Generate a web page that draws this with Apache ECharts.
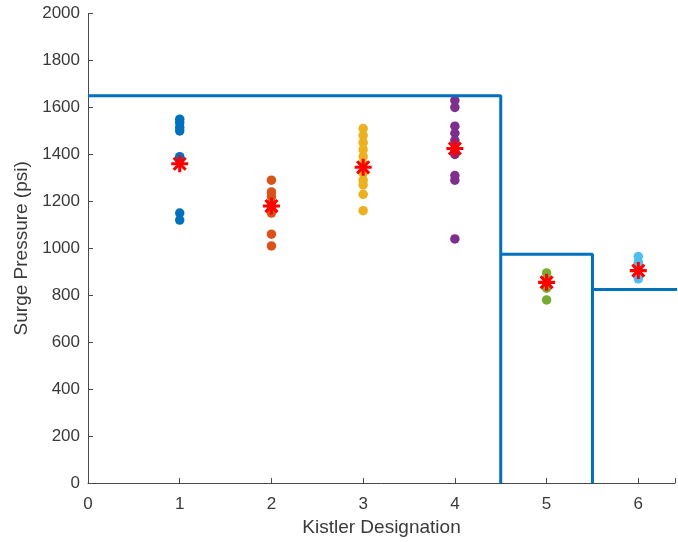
<!DOCTYPE html>
<html>
<head>
<meta charset="utf-8">
<title>Surge Pressure by Kistler Designation</title>
<script src="https://cdn.jsdelivr.net/npm/echarts@6/dist/echarts.min.js"></script>
<style>
  html, body { margin: 0; padding: 0; background: #ffffff; }
  #chart { width: 678px; height: 542px; }
</style>
</head>
<body>
<div id="chart"></div>
<script>
// Kistler gauge positions along the x axis
const designations = [1, 2, 3, 4, 5, 6];

// Individual surge pressure readings (psi) for each gauge
const kistler1 = [1550, 1535, 1515, 1500, 1390, 1375, 1150, 1120];
const kistler2 = [1290, 1240, 1220, 1195, 1170, 1150, 1060, 1010];
const kistler3 = [1510, 1480, 1450, 1420, 1390, 1360, 1320, 1290, 1270, 1230, 1160];
const kistler4 = [1630, 1600, 1520, 1490, 1460, 1420, 1400, 1310, 1290, 1040];
const kistler5 = [895, 870, 850, 830, 780];
const kistler6 = [965, 940, 910, 880, 870];

// Average pressure per gauge (red asterisks)
const meanPressure = [1360, 1180, 1345, 1425, 855, 905];

// Pressure limit steps: limitValues[i] applies between limitBounds[i] and limitBounds[i+1]
const limitBounds = [0, 4.5, 5.5, 6.5];
const limitValues = [1650, 975, 825];

// Axis tick values and the visible x range
const yTicks = [0, 200, 400, 600, 800, 1000, 1200, 1400, 1600, 1800, 2000];
const xTicks = [0, 1, 2, 3, 4, 5, 6];
const xMax = 6.4;

const readings = [kistler1, kistler2, kistler3, kistler4, kistler5, kistler6];
const dotColors = ['#0072BD', '#D95319', '#EDB120', '#7E2F8E', '#77AC30', '#4DBEEE'];

const fontFamily = '"Liberation Sans", Arial, Helvetica, sans-serif';
const textColor = '#3a3a3a';
const axisColor = '#4a4a4a';

const series = [];

// scattered readings
readings.forEach(function (vals, i) {
  series.push({
    type: 'scatter',
    name: 'Kistler ' + designations[i],
    data: vals.map(function (v) { return [designations[i], v]; }),
    symbol: 'circle',
    symbolSize: 9.5,
    itemStyle: { color: dotColors[i], opacity: 1 },
    z: 2,
    silent: true
  });
});

// limit steps drawn as separate segments
for (let i = 0; i < limitValues.length; i++) {
  const pts = [[limitBounds[i], limitValues[i]], [limitBounds[i + 1], limitValues[i]]];
  if (i < limitValues.length - 1) pts.push([limitBounds[i + 1], 0]);
  series.push({
    type: 'line',
    name: 'Limit ' + (i + 1),
    data: pts,
    showSymbol: false,
    symbol: 'none',
    clip: true,
    lineStyle: { color: '#0072BD', width: 3 },
    z: 3,
    silent: true
  });
}

// asterisk marker built from a plus and a rotated plus
const plusPath = 'path://M-1.8,-10L1.8,-10L1.8,-1.8L10,-1.8L10,1.8L1.8,1.8L1.8,10L-1.8,10L-1.8,1.8L-10,1.8L-10,-1.8L-1.8,-1.8Z';
const meanData = meanPressure.map(function (v, i) { return [designations[i], v]; });
[0, 45].forEach(function (rot) {
  series.push({
    type: 'scatter',
    name: 'Mean',
    data: meanData,
    symbol: plusPath,
    symbolSize: 17,
    symbolRotate: rot,
    itemStyle: { color: '#FF0000', opacity: 1 },
    z: 4,
    silent: true
  });
});

const chart = echarts.init(document.getElementById('chart'), null, { renderer: 'canvas' });
chart.setOption({
  animation: false,
  backgroundColor: '#ffffff',
  grid: { left: 88, right: 0, top: 13.5, bottom: 58.5, containLabel: false },
  xAxis: {
    type: 'value',
    min: xTicks[0],
    max: xMax,
    interval: 1,
    name: 'Kistler Designation',
    nameLocation: 'middle',
    nameGap: 33,
    nameTextStyle: { fontSize: 19, color: textColor, fontFamily: fontFamily },
    axisLine: { show: true, onZero: false, lineStyle: { color: axisColor, width: 1 } },
    axisTick: { show: true, inside: true, length: 5, lineStyle: { color: axisColor } },
    axisLabel: {
      fontSize: 17, color: textColor, fontFamily: fontFamily, margin: 13,
      formatter: function (v) { return xTicks.indexOf(v) >= 0 ? String(v) : ''; }
    },
    splitLine: { show: false }
  },
  yAxis: {
    type: 'value',
    min: yTicks[0],
    max: yTicks[yTicks.length - 1],
    interval: 200,
    name: 'Surge Pressure (psi)',
    nameLocation: 'middle',
    nameGap: 47,
    nameTextStyle: { fontSize: 19, color: textColor, fontFamily: fontFamily },
    axisLine: { show: true, lineStyle: { color: axisColor, width: 1 } },
    axisTick: { show: true, inside: true, length: 5, lineStyle: { color: axisColor } },
    axisLabel: {
      fontSize: 17, color: textColor, fontFamily: fontFamily, margin: 8,
      formatter: function (v) { return String(v); }
    },
    splitLine: { show: false }
  },
  series: series
});
</script>
</body>
</html>
